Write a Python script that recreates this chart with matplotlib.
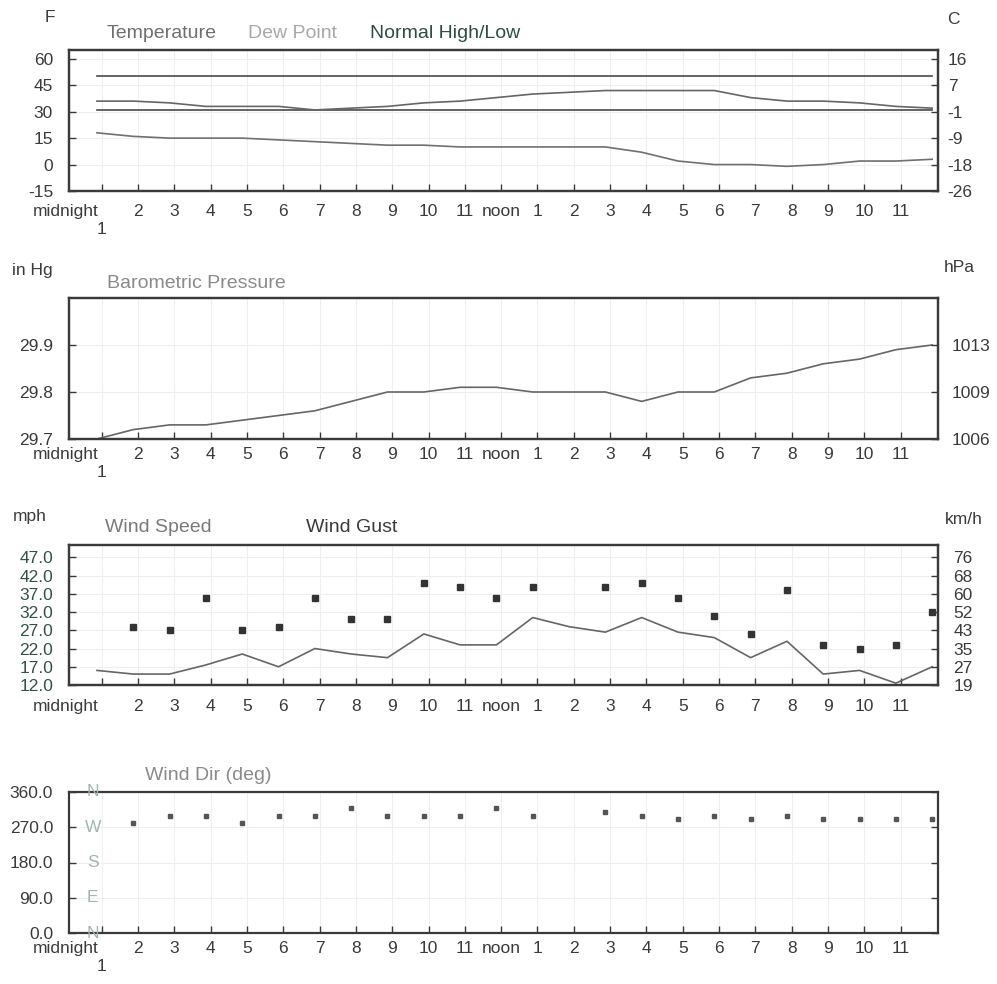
import matplotlib.pyplot as plt
import numpy as np

plt.rcParams['font.family'] = ['Liberation Sans', 'DejaVu Sans']

W, H = 997, 984
TXT = '#3a3a3a'

# hourly reports come in a little before each hour
obs_hour = np.arange(24) + 0.87

temperature = [36, 36, 35, 33, 33, 33, 31, 32, 33, 35, 36, 38,
               40, 41, 42, 42, 42, 42, 38, 36, 36, 35, 33, 32]
dew_point = [18, 16, 15, 15, 15, 14, 13, 12, 11, 11, 10, 10,
             10, 10, 10, 7, 2, 0, 0, -1, 0, 2, 2, 3]
normal_high = [50] * 24
normal_low = [31] * 24

pressure = [29.70, 29.72, 29.73, 29.73, 29.74, 29.75, 29.76, 29.78,
            29.80, 29.80, 29.81, 29.81, 29.80, 29.80, 29.80, 29.78,
            29.80, 29.80, 29.83, 29.84, 29.86, 29.87, 29.89, 29.90]

wind_speed = [16, 15, 15, 17.5, 20.5, 17, 22, 20.5, 19.5, 26, 23, 23,
              30.5, 28, 26.5, 30.5, 26.5, 25, 19.5, 24, 15, 16, 12.5, 17]
wind_gust = [np.nan, 28, 27, 36, 27, 28, 36, 30, 30, 40, 39, 36,
             39, np.nan, 39, 40, 36, 31, 26, 38, 23, 22, 23, 32]

wind_dir = [np.nan, 280, 300, 300, 280, 300, 300, 320, 300, 300, 300, 320,
            300, np.nan, 310, 300, 290, 300, 290, 300, 290, 290, 290, 290]

hour_ticks = list(range(1, 24))
hour_labels = ['\n1'] + [str(h) for h in range(2, 12)] + ['noon'] + [str(h) for h in range(1, 12)]

temp_ticks = [-15, 0, 15, 30, 45, 60]
temp_c_labels = ['-26', '-18', '-9', '-1', '7', '16']
pres_ticks = [29.7, 29.8, 29.9]
pres_hpa_labels = ['1006', '1009', '1013']
wind_ticks = [12, 17, 22, 27, 32, 37, 42, 47]
wind_kmh_labels = ['19', '27', '35', '43', '52', '60', '68', '76']
dir_ticks = [0, 90, 180, 270, 360]
dir_letters = ['N', 'E', 'S', 'W', 'N']

fig = plt.figure(figsize=(W / 100, H / 100), dpi=100)


def px_axes(top, bottom, left=69, right=938):
    return fig.add_axes([left / W, 1 - bottom / H, (right - left) / W, (bottom - top) / H])


def style(ax, yticks, ylabels, ylim, xpad, first_label='\n1', ycolor=TXT):
    ax.set_xlim(0.1, 24.03)
    ax.set_ylim(*ylim)
    labels = list(hour_labels)
    labels[0] = first_label
    ax.set_xticks(hour_ticks)
    ax.set_xticklabels(labels)
    ax.set_yticks(yticks)
    ax.set_yticklabels(ylabels)
    ax.tick_params(axis='x', direction='in', length=5, width=1, pad=xpad,
                   labelsize=12.5, color=TXT, labelcolor=TXT)
    ax.tick_params(axis='y', direction='in', length=5, width=1, pad=11.5,
                   labelsize=12.5, color=TXT, labelcolor=ycolor)
    ax.grid(color='#efefef', lw=0.8)
    for s in ax.spines.values():
        s.set_color(TXT)
        s.set_linewidth(1.6)
    ax.annotate('midnight', xy=(0, 0), xycoords=('data', 'axes fraction'),
                xytext=(0, -xpad), textcoords='offset points', ha='center',
                va='top', fontsize=12.5, color=TXT, annotation_clip=False)


def right_axis(ax, yticks, labels, pad):
    ax2 = ax.twinx()
    ax2.set_ylim(ax.get_ylim())
    ax2.set_yticks(yticks)
    ax2.set_yticklabels(labels)
    ax2.tick_params(axis='y', direction='in', length=5, width=1, pad=pad,
                    labelsize=12.5, color=TXT, labelcolor=TXT)
    for s in ax2.spines.values():
        s.set_color(TXT)
        s.set_linewidth(1.6)
    return ax2


def ftext(x, y, s, color=TXT, size=12.5, ha='left'):
    fig.text(x / W, 1 - y / H, s, color=color, fontsize=size, ha=ha, va='center')


# temperature
ax1 = px_axes(50, 191)
ax1.plot(obs_hour, normal_high, color='#4a4a4a', lw=1.2)
ax1.plot(obs_hour, normal_low, color='#4a4a4a', lw=1.2)
ax1.plot(obs_hour, temperature, color='#666666', lw=1.2)
ax1.plot(obs_hour, dew_point, color='#707070', lw=1.2)
style(ax1, temp_ticks, [str(t) for t in temp_ticks], (-15, 65), 9.5)
right_axis(ax1, temp_ticks, temp_c_labels, 7)
ftext(45, 18, 'F')
ftext(947, 20, 'C')
ftext(107, 33, 'Temperature', '#6f6f6f', 14)
ftext(248, 33, 'Dew Point', '#a8a8a8', 14)
ftext(370, 33, 'Normal High/Low', '#2e4d42', 14)

# pressure
ax2 = px_axes(298, 439)
ax2.plot(obs_hour, pressure, color='#666666', lw=1.2)
style(ax2, pres_ticks, ['%.1f' % p for p in pres_ticks], (29.7, 30.0), 6)
right_axis(ax2, pres_ticks, pres_hpa_labels, 10)
ftext(12, 270, 'in Hg')
ftext(944, 268, 'hPa')
ftext(107, 283, 'Barometric Pressure', '#8a8a8a', 14)

# wind
ax3 = px_axes(545, 685)
ax3.plot(obs_hour, wind_speed, color='#666666', lw=1.2)
ax3.plot(obs_hour, wind_gust, 's', color='#333333', ms=4)
style(ax3, wind_ticks, ['%.1f' % w for w in wind_ticks], (12, 50.4), 10,
      first_label='', ycolor='#2f5246')
right_axis(ax3, wind_ticks, wind_kmh_labels, 11)
ftext(13, 517, 'mph')
ftext(945, 520, 'km/h')
ftext(105, 527, 'Wind Speed', '#7a7a7a', 14)
ftext(306, 527, 'Wind Gust', '#3a3a3a', 14)

# wind direction
ax4 = px_axes(792, 933)
ax4.plot(obs_hour, wind_dir, 's', color='#555555', ms=3)
style(ax4, dir_ticks, ['%.1f' % d for d in dir_ticks], (0, 360), 6)
ax4.tick_params(axis='y', right=True)
for deg, letter in zip(dir_ticks, dir_letters):
    ax4.annotate(letter, xy=(0, deg), xycoords=('axes fraction', 'data'),
                 xytext=(17, 0), textcoords='offset points', ha='center',
                 va='center', fontsize=12.5, color='#a0b4ad', annotation_clip=False)
ftext(145, 776, 'Wind Dir (deg)', '#8a8a8a', 14)

fig.savefig('out.png', dpi=100)
